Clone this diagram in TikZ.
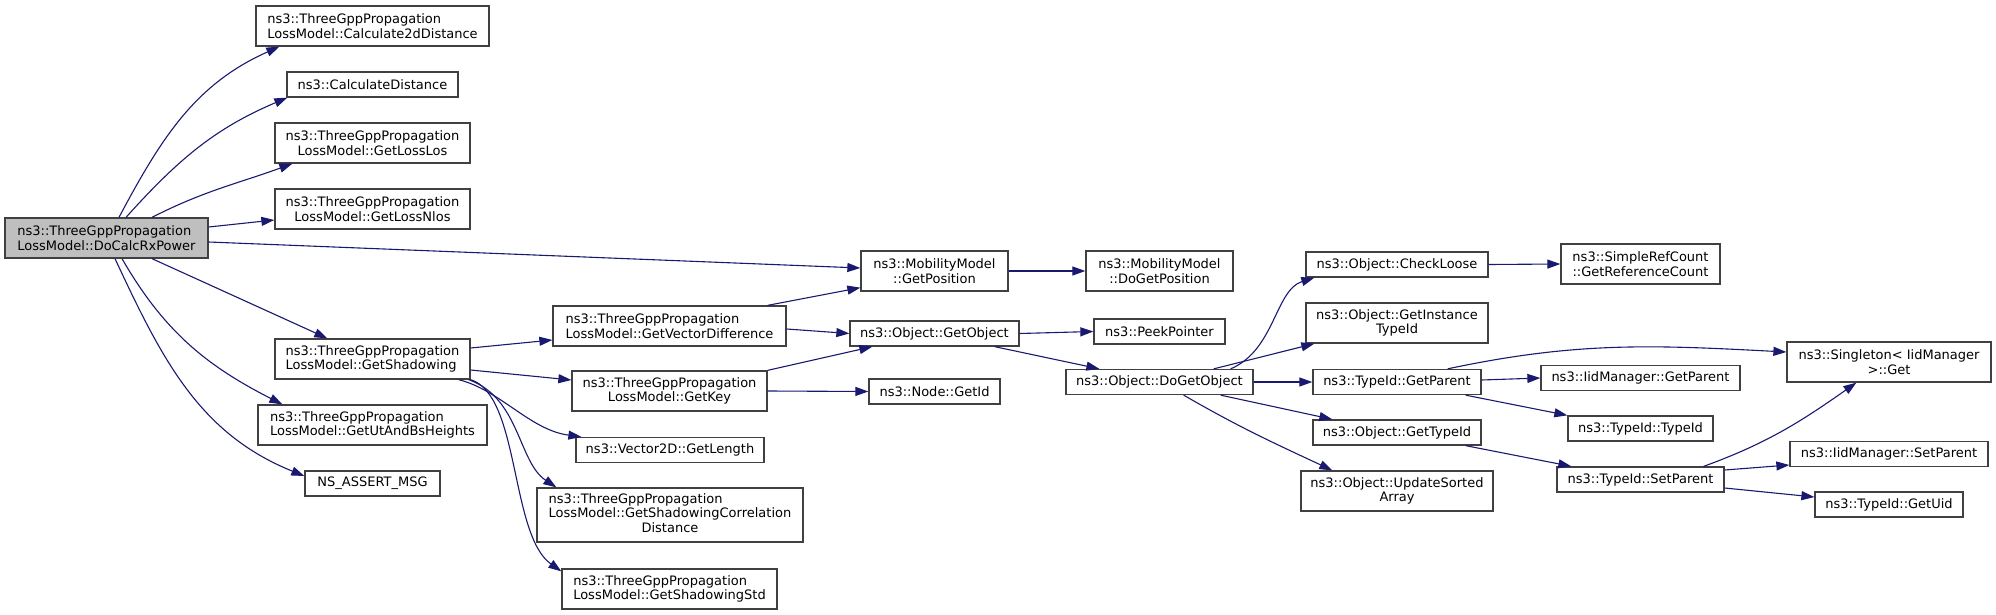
\documentclass[tikz,border=0pt]{standalone}
\usepackage{fontspec}
\usepackage{tikz}
\usetikzlibrary{arrows.meta}
\newfontfamily\graphfont{DejaVu Sans}
\definecolor{edgeblue}{HTML}{191970}
\definecolor{boxline}{gray}{0.25}
\definecolor{rootfill}{gray}{0.75}

\begin{document}
\begin{tikzpicture}[x=1pt, y=-1pt,
    fn/.style={draw=boxline, line width=1.3pt, fill=white, inner sep=0pt,
        minimum height=25pt, align=center,
        font=\graphfont\fontsize{13}{14.8}\selectfont},
    fn2/.style={fn, minimum height=40pt},
    call/.style={draw=edgeblue, line width=1.1pt,
        -{Triangle[length=13pt, width=9pt]}}]
    \useasboundingbox (0,0) rectangle (1996,615);

    % root
    \node[fn2, fill=rootfill, minimum width=203pt, align=left] (rx) at (106.5,238)
        {ns3::ThreeGppPropagation\\LossModel::DoCalcRxPower};

    % first column
    \node[fn2, minimum width=233pt, align=left] (c2d) at (372.5,26)
        {ns3::ThreeGppPropagation\\LossModel::Calculate2dDistance};
    \node[fn, minimum width=171pt] (cdist) at (372.5,84.5) {ns3::CalculateDistance};
    \node[fn2, minimum width=195pt] (los) at (372.5,143)
        {ns3::ThreeGppPropagation\\LossModel::GetLossLos};
    \node[fn2, minimum width=195pt] (nlos) at (372.5,209)
        {ns3::ThreeGppPropagation\\LossModel::GetLossNlos};
    \node[fn2, minimum width=195pt, align=left] (shadow) at (372.5,359)
        {ns3::ThreeGppPropagation\\LossModel::GetShadowing};
    \node[fn2, minimum width=229pt, align=left] (utbs) at (372.5,425)
        {ns3::ThreeGppPropagation\\LossModel::GetUtAndBsHeights};
    \node[fn, minimum width=135pt] (assert) at (372.5,483.5) {NS\_ASSERT\_MSG};

    % second column
    \node[fn2, minimum width=233pt, align=left] (vecdiff) at (669.5,326)
        {ns3::ThreeGppPropagation\\LossModel::GetVectorDifference};
    \node[fn2, minimum width=195pt] (getkey) at (669.5,391)
        {ns3::ThreeGppPropagation\\LossModel::GetKey};
    \node[fn, minimum width=188pt] (glen) at (670,450) {ns3::Vector2D::GetLength};
    \node[fn, minimum width=266pt, minimum height=54pt] (corr) at (670,515)
        {\begin{tabular}{@{}l@{}}ns3::ThreeGppPropagation\\
         LossModel::GetShadowingCorrelation\\
         \multicolumn{1}{@{}c@{}}{Distance}\end{tabular}};
    \node[fn2, minimum width=215pt, align=left] (std) at (669.5,589)
        {ns3::ThreeGppPropagation\\LossModel::GetShadowingStd};

    % third column
    \node[fn2, minimum width=147pt] (getpos) at (934.5,271)
        {ns3::MobilityModel\\::GetPosition};
    \node[fn, minimum width=169pt] (getobj) at (934.5,333.5) {ns3::Object::GetObject};
    \node[fn, minimum width=131pt] (nodeid) at (934.5,391.5) {ns3::Node::GetId};

    % fourth column
    \node[fn2, minimum width=147pt] (dogetpos) at (1159.5,271)
        {ns3::MobilityModel\\::DoGetPosition};
    \node[fn, minimum width=131pt] (peek) at (1159.5,331.5) {ns3::PeekPointer};
    \node[fn, minimum width=187pt] (dogetobj) at (1159.5,382) {ns3::Object::DoGetObject};

    % fifth column
    \node[fn, minimum width=182pt] (loose) at (1397,264.5) {ns3::Object::CheckLoose};
    \node[fn2, minimum width=182pt] (insttid) at (1397,323)
        {ns3::Object::GetInstance\\TypeId};
    \node[fn, minimum width=168pt] (tgetpar) at (1397,382) {ns3::TypeId::GetParent};
    \node[fn, minimum width=168pt] (ogettid) at (1397,432.5) {ns3::Object::GetTypeId};
    \node[fn2, minimum width=192pt] (updsort) at (1397,491)
        {ns3::Object::UpdateSorted\\Array};

    % sixth column
    \node[fn2, minimum width=159pt] (refcnt) at (1640.5,264)
        {ns3::SimpleRefCount\\::GetReferenceCount};
    \node[fn, minimum width=199pt] (iidgetpar) at (1640.5,378) {ns3::IidManager::GetParent};
    \node[fn, minimum width=145pt] (tidtid) at (1640.5,428.5) {ns3::TypeId::TypeId};
    \node[fn, minimum width=167pt] (tsetpar) at (1640.5,479.5) {ns3::TypeId::SetParent};

    % last column
    \node[fn2, minimum width=204pt] (singleton) at (1889,362)
        {ns3::Singleton< IidManager\\>::Get};
    \node[fn, minimum width=198pt] (iidsetpar) at (1889,454) {ns3::IidManager::SetParent};
    \node[fn, minimum width=148pt] (getuid) at (1889,504.5) {ns3::TypeId::GetUid};

    % calls from the root
    \draw[call] ([xshift=12.5pt]rx.north) to[out=62,in=204] ([xshift=24pt]c2d.south west);
    \draw[call] ([xshift=19.5pt]rx.north) to[out=48,in=203] ([xshift=1pt]cdist.south west);
    \draw[call] ([xshift=45.5pt]rx.north) to[out=27,in=200] ([xshift=18pt]los.south west);
    \draw[call] ([yshift=11pt]rx.east) -- ([yshift=-11pt]nlos.west);
    \draw[call] ([yshift=-4pt]rx.east) -- ([yshift=3pt]getpos.west);
    \draw[call] ([xshift=45.5pt]rx.south) -- ([xshift=53pt]shadow.north west);
    \draw[call] ([xshift=15.5pt]rx.south) to[out=-60,in=153] ([xshift=25pt]utbs.north west);
    \draw[call] ([xshift=8.5pt]rx.south) to[out=-65,in=158] ([yshift=7.5pt]assert.west);

    % GetShadowing
    \draw[call] ([yshift=11pt]shadow.east) -- ([yshift=-14pt]vecdiff.west);
    \draw[call] ([yshift=-11pt]shadow.east) -- ([yshift=11pt]getkey.west);
    \draw[call] ([xshift=-12pt]shadow.south east) .. controls (500,390) and (530,430) .. ([xshift=6pt]glen.north west);
    \draw[call] ([xshift=-2pt]shadow.south east) .. controls (520,398) and (518,462) .. ([xshift=20pt]corr.north west);
    \draw[call] (shadow.south east) .. controls (520,395) and (510,535) .. ([yshift=-3pt]std.north west);

    % GetVectorDifference, GetKey
    \draw[call] ([xshift=-19pt]vecdiff.north east) -- ([yshift=4pt]getpos.south west);
    \draw[call] ([yshift=-3pt]vecdiff.east) -- (getobj.west);
    \draw[call] (getkey.north east) -- ([xshift=23pt]getobj.south west);
    \draw[call] (getkey.east) -- (nodeid.west);

    \draw[call] (getpos.east) -- (dogetpos.west);
    \draw[call] (getobj.east) -- (peek.west);
    \draw[call] ([xshift=-25pt]getobj.south east) -- ([xshift=34pt]dogetobj.north west);

    % DoGetObject
    \draw[call] ([xshift=-23pt]dogetobj.north east) .. controls (1275,350) and (1275,290) .. ([xshift=9pt]loose.south west);
    \draw[call] ([xshift=-40pt]dogetobj.north east) -- ([xshift=9pt]insttid.south west);
    \draw[call] (dogetobj.east) -- (tgetpar.west);
    \draw[call] ([xshift=-33pt]dogetobj.south east) -- ([xshift=20pt]ogettid.north west);
    \draw[call] ([xshift=-70pt]dogetobj.south east) to[out=-30,in=155] ([xshift=32pt]updsort.north west);

    \draw[call] (loose.east) -- (refcnt.west);

    % TypeId
    \draw[call] ([xshift=-34pt]tgetpar.north east) to[out=12,in=177] ([yshift=10pt]singleton.west);
    \draw[call] ([yshift=2pt]tgetpar.east) -- (iidgetpar.west);
    \draw[call] ([xshift=-16pt]tgetpar.south east) -- (tidtid.north west);
    \draw[call] ([xshift=-16pt]ogettid.south east) -- ([xshift=15pt]tsetpar.north west);
    \draw[call] ([xshift=-21pt]tsetpar.north east) to[out=20,in=215] ([xshift=70pt]singleton.south west);
    \draw[call] ([yshift=9.5pt]tsetpar.east) -- ([yshift=-11pt]iidsetpar.west);
    \draw[call] ([yshift=-8.5pt]tsetpar.east) -- ([yshift=7.5pt]getuid.west);
\end{tikzpicture}
\end{document}
